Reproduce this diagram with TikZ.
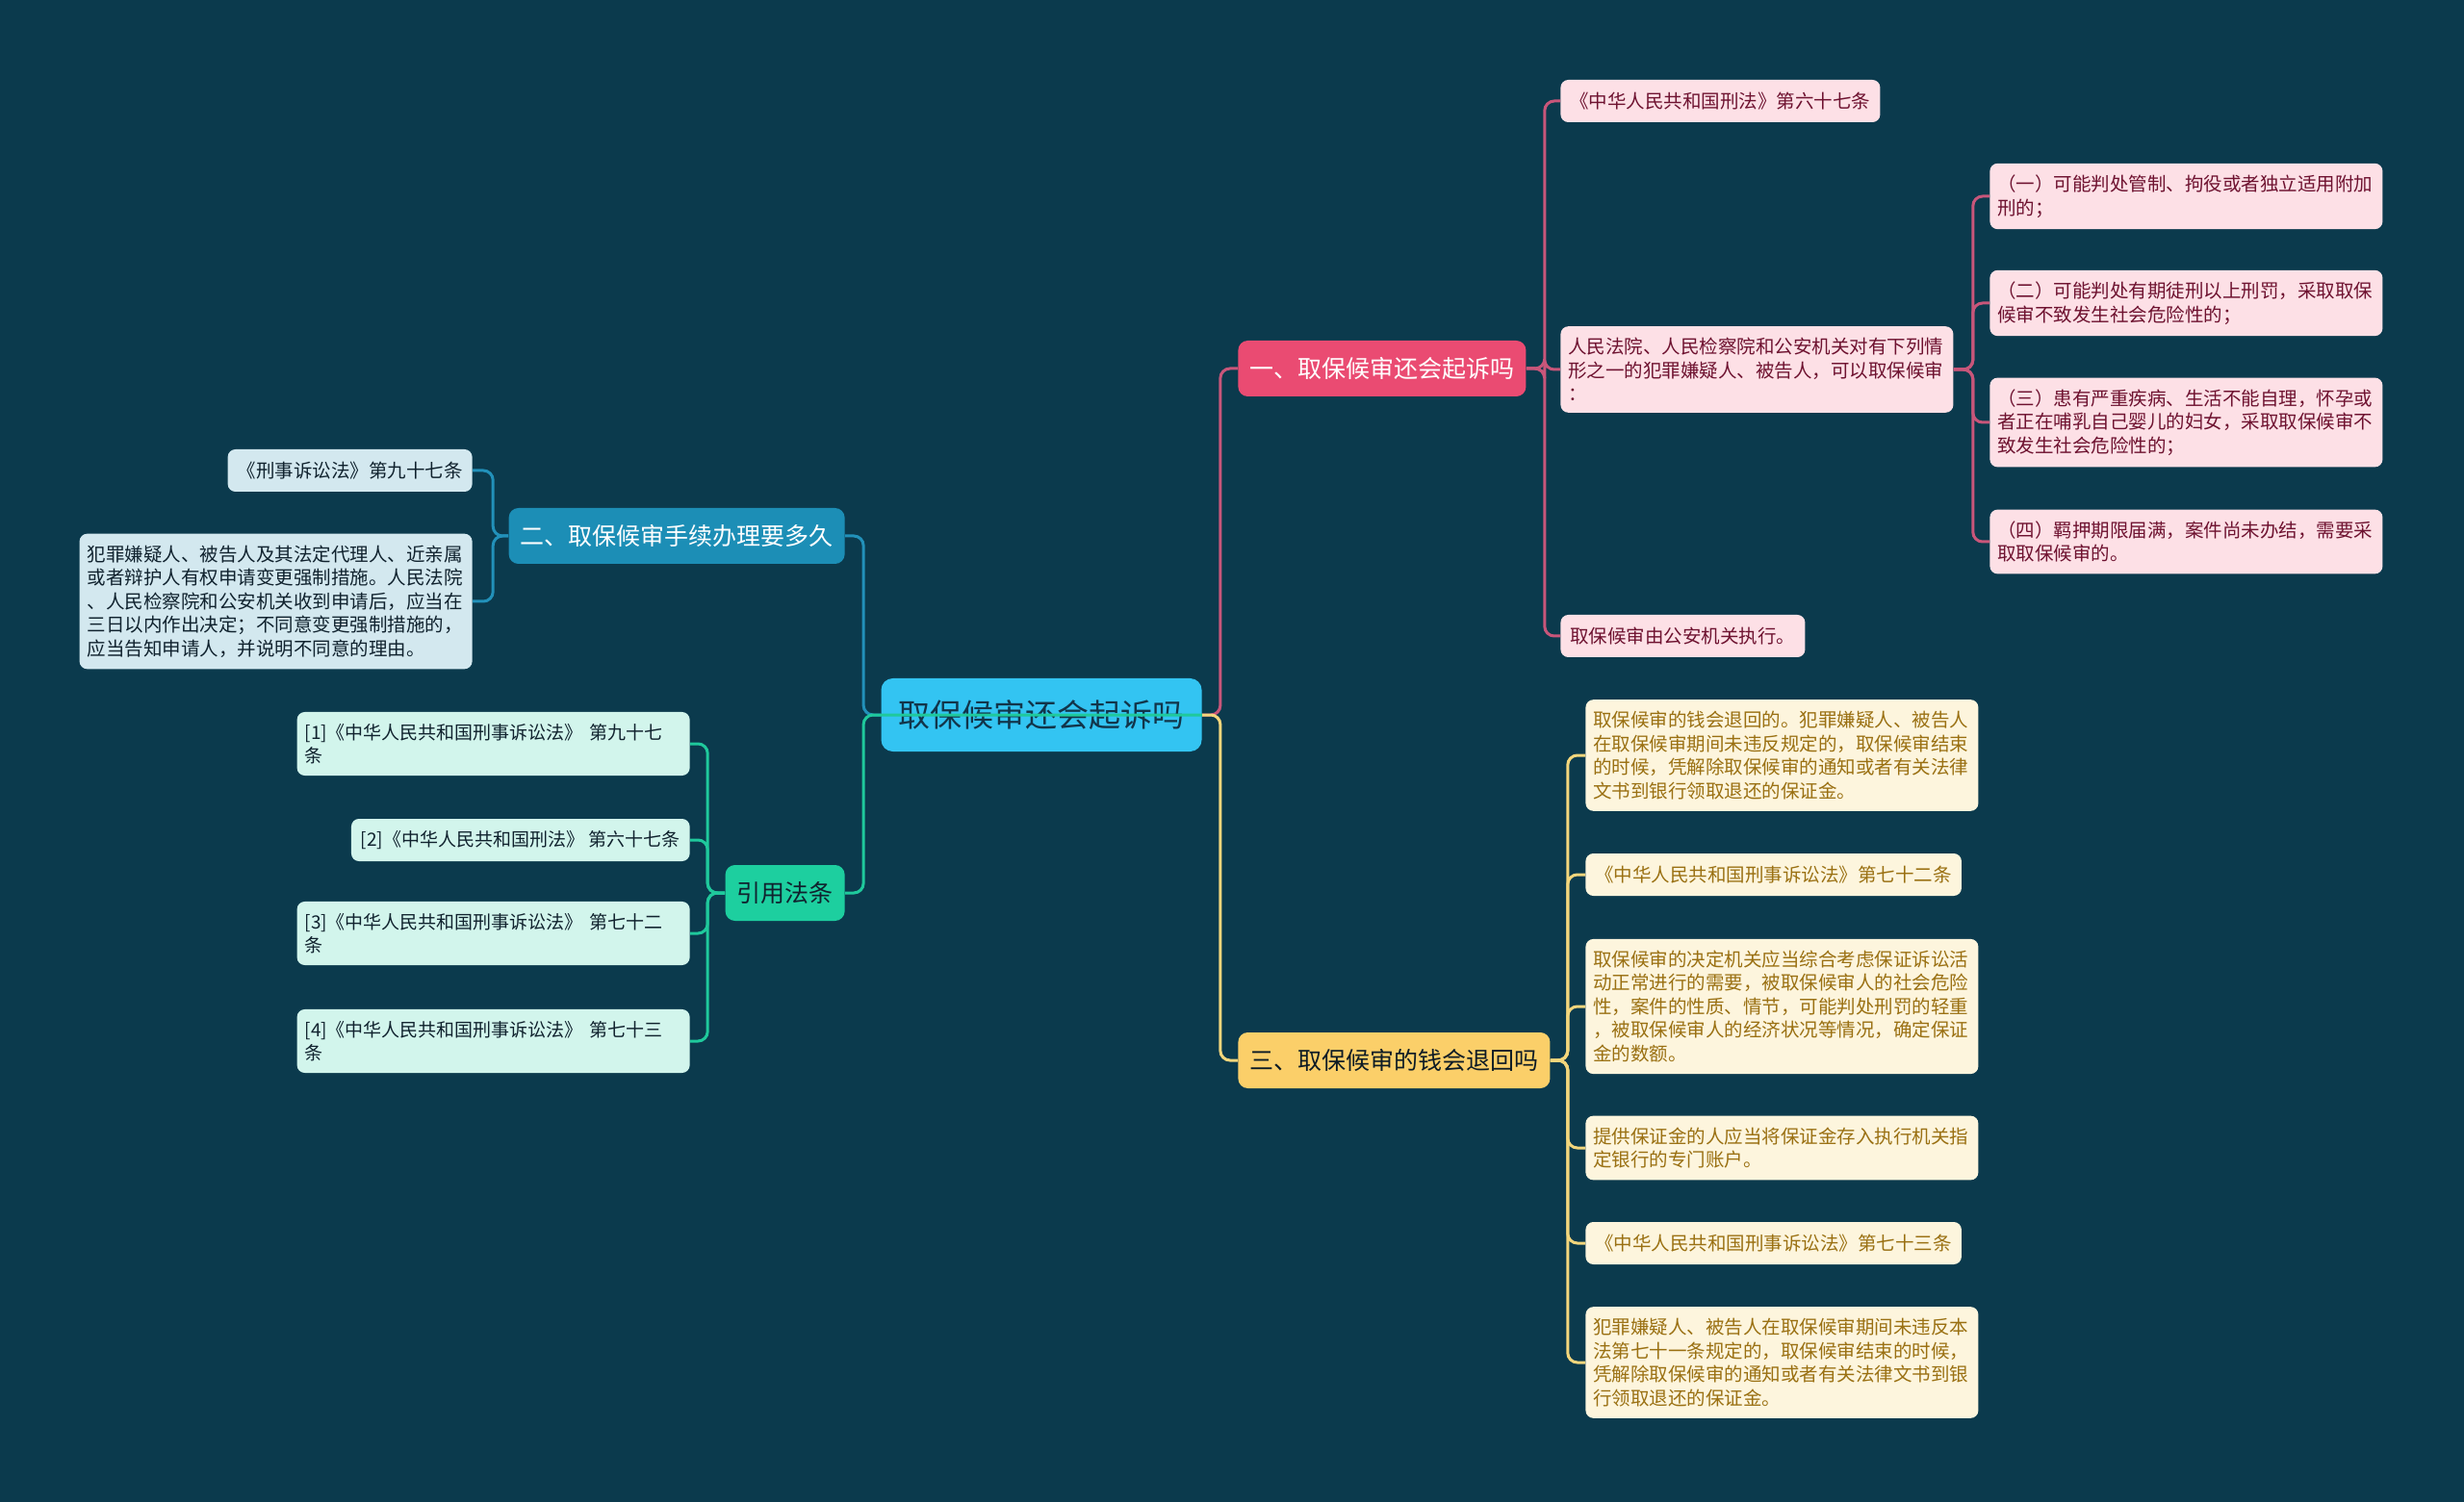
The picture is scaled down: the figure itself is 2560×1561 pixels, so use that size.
\documentclass[tikz,border=0pt]{standalone}
\usepackage{fontspec}
\newfontfamily\cjk{Noto Sans CJK SC}
\usepackage{tikz}
\definecolor{bg}{HTML}{0B3A4D}
\definecolor{rootfill}{HTML}{33C4F2}
\definecolor{roottext}{HTML}{12354A}
\definecolor{redtopic}{HTML}{EA4B72}
\definecolor{redline}{HTML}{C8567A}
\definecolor{redleaf}{HTML}{FDE0E6}
\definecolor{redtext}{HTML}{6E1230}
\definecolor{bluetopic}{HTML}{1C8EB6}
\definecolor{blueline}{HTML}{2291BA}
\definecolor{blueleaf}{HTML}{D3E8EF}
\definecolor{greentopic}{HTML}{1DCF9F}
\definecolor{greenline}{HTML}{1FC99C}
\definecolor{greenleaf}{HTML}{D2F5EC}
\definecolor{yellowtopic}{HTML}{FBCF69}
\definecolor{yellowline}{HTML}{F3D67C}
\definecolor{yellowleaf}{HTML}{FDF5DD}
\definecolor{yellowtext}{HTML}{9A7012}
\definecolor{darktext}{HTML}{10222E}

\begin{document}
\begin{tikzpicture}[x=0.5pt,y=-0.5pt,
  box/.style={rounded corners=4pt,inner xsep=5pt,inner ysep=6pt,minimum height=22pt,align=left,
    font=\cjk\fontsize{9.75}{12.25}\selectfont},
  para/.style={box,inner xsep=4pt,text width=196pt},
  topic/.style={rounded corners=5pt,inner xsep=6pt,minimum height=29pt,
    font=\cjk\fontsize{12.5}{15}\selectfont},
  link/.style={line width=1.5pt,rounded corners=5pt},
  redleafbox/.style={fill=redleaf,text=redtext},
  blueleafbox/.style={fill=blueleaf,text=darktext},
  greenleafbox/.style={fill=greenleaf,text=darktext,font=\cjk\fontsize{9.5}{12.25}\selectfont},
  yellowleafbox/.style={fill=yellowleaf,text=yellowtext}]

\fill[bg] (0,0) rectangle (2560,1561);

\node[rounded corners=6pt,fill=rootfill,text=roottext,minimum width=166.5pt,minimum height=38pt,
  font=\cjk\fontsize{16.5}{20}\selectfont] (root) at (1082,743) {取保候审还会起诉吗};

\node[topic,fill=redtopic,text=white,anchor=west] (b1) at (1286,383) {一、取保候审还会起诉吗};
\node[topic,fill=bluetopic,text=white,anchor=east] (b2) at (878,557) {二、取保候审手续办理要多久};
\node[topic,fill=greentopic,text=darktext,anchor=east] (cite) at (878,928) {引用法条};
\node[topic,fill=yellowtopic,text=darktext!80!black,anchor=west] (b3) at (1286,1102) {三、取保候审的钱会退回吗};

\node[box,redleafbox,anchor=west] (b1a) at (1621,105) {《中华人民共和国刑法》第六十七条};
\node[para,redleafbox,anchor=west] (b1b) at (1621,384) {人民法院、人民检察院和公安机关对有下列情\\形之一的犯罪嫌疑人、被告人，可以取保候审\\：};
\node[box,redleafbox,anchor=west] (b1c) at (1621,661) {取保候审由公安机关执行。};

\node[para,redleafbox,anchor=west] (case1) at (2067,204) {（一）可能判处管制、拘役或者独立适用附加\\刑的；};
\node[para,redleafbox,anchor=west] (case2) at (2067,315) {（二）可能判处有期徒刑以上刑罚，采取取保\\候审不致发生社会危险性的；};
\node[para,redleafbox,anchor=west] (case3) at (2067,439) {（三）患有严重疾病、生活不能自理，怀孕或\\者正在哺乳自己婴儿的妇女，采取取保候审不\\致发生社会危险性的；};
\node[para,redleafbox,anchor=west] (case4) at (2067,563) {（四）羁押期限届满，案件尚未办结，需要采\\取取保候审的。};

\node[box,blueleafbox,anchor=east] (b2a) at (491,489) {《刑事诉讼法》第九十七条};
\node[para,blueleafbox,anchor=east] (b2b) at (491,625) {犯罪嫌疑人、被告人及其法定代理人、近亲属\\或者辩护人有权申请变更强制措施。人民法院\\、人民检察院和公安机关收到申请后，应当在\\三日以内作出决定；不同意变更强制措施的，\\应当告知申请人，并说明不同意的理由。};

\node[para,greenleafbox,anchor=east] (ref1) at (717,773) {[1]《中华人民共和国刑事诉讼法》~第九十七\\条};
\node[box,greenleafbox,anchor=east] (ref2) at (717,873) {[2]《中华人民共和国刑法》~第六十七条};
\node[para,greenleafbox,anchor=east] (ref3) at (717,970) {[3]《中华人民共和国刑事诉讼法》~第七十二\\条};
\node[para,greenleafbox,anchor=east] (ref4) at (717,1082) {[4]《中华人民共和国刑事诉讼法》~第七十三\\条};

\node[para,yellowleafbox,anchor=west] (b3a) at (1647,785) {取保候审的钱会退回的。犯罪嫌疑人、被告人\\在取保候审期间未违反规定的，取保候审结束\\的时候，凭解除取保候审的通知或者有关法律\\文书到银行领取退还的保证金。};
\node[box,yellowleafbox,anchor=west] (b3b) at (1647,909) {《中华人民共和国刑事诉讼法》第七十二条};
\node[para,yellowleafbox,anchor=west] (b3c) at (1647,1046) {取保候审的决定机关应当综合考虑保证诉讼活\\动正常进行的需要，被取保候审人的社会危险\\性，案件的性质、情节，可能判处刑罚的轻重\\，被取保候审人的经济状况等情况，确定保证\\金的数额。};
\node[para,yellowleafbox,anchor=west] (b3d) at (1647,1193) {提供保证金的人应当将保证金存入执行机关指\\定银行的专门账户。};
\node[box,yellowleafbox,anchor=west] (b3e) at (1647,1292) {《中华人民共和国刑事诉讼法》第七十三条};
\node[para,yellowleafbox,anchor=west] (b3f) at (1647,1416) {犯罪嫌疑人、被告人在取保候审期间未违反本\\法第七十一条规定的，取保候审结束的时候，\\凭解除取保候审的通知或者有关法律文书到银\\行领取退还的保证金。};

\draw[link,redline] (root.east) -- ++(19,0) |- (b1.west);
\draw[link,yellowline] (root.east) -- ++(19,0) |- (b3.west);
\draw[link,blueline] (root.west) -- ++(-18,0) |- (b2.east);
\draw[link,greenline] (root.east) -- (root.west) -- ++(-18,0) |- (cite.east);

\foreach \leaf in {b1a,b1b,b1c}
  \draw[link,redline] (b1.east) -- ++(19,0) |- (\leaf.west);
\foreach \leaf in {case1,case2,case3,case4}
  \draw[link,redline] (b1b.east) -- ++(20,0) |- (\leaf.west);
\foreach \leaf in {b2a,b2b}
  \draw[link,blueline] (b2.west) -- ++(-16,0) |- (\leaf.east);
\foreach \leaf in {ref1,ref2,ref3,ref4}
  \draw[link,greenline] (cite.west) -- ++(-18,0) |- (\leaf.east);
\foreach \leaf in {b3a,b3b,b3c,b3d,b3e,b3f}
  \draw[link,yellowline] (b3.east) -- ++(18,0) |- (\leaf.west);
\end{tikzpicture}
\end{document}
